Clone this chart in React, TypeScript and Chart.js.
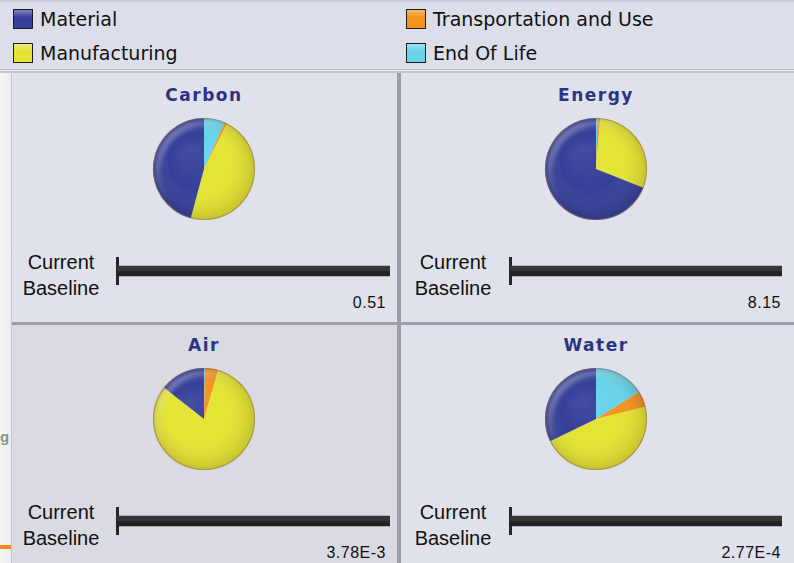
import React, { useEffect, useRef } from 'react';
import { Chart, registerables } from 'chart.js';

Chart.register(...registerables);

// ---------- data ----------
const seriesNames = ['Material', 'Manufacturing', 'Transportation and Use', 'End Of Life'];
const seriesColors = ['#36409a', '#e4e432', '#f5931f', '#68d3ea'];
const impactTitles = ['Carbon', 'Energy', 'Air', 'Water'];
const material = [45.8, 69.0, 14.4, 32.2];
const manufacturing = [46.7, 29.7, 81.1, 46.7];
const transportation = [0.8, 0.8, 4.2, 5.0];
const endOfLife = [6.7, 0.5, 0.3, 16.1];
const barLabels = ['Current', 'Baseline'];
const currentValues = [0.51, 8.15, 3.78e-3, 2.77e-4];
const baselineValues = [0.51, 8.15, 3.78e-3, 2.77e-4];

// ---------- layout ----------
const COLS = [
  { panelX: 12, panelW: 385, cx: 204, barX1: 117, barX2: 390, labelCx: 61, valueRight: 386 },
  { panelX: 401, panelW: 393, cx: 596, barX1: 510, barX2: 782, labelCx: 453, valueRight: 781 },
];
const ROWS = [
  { panelY: 73, panelH: 249, dy: 0 },
  { panelY: 325, panelH: 238, dy: 250 },
];
const Y = { title: 95, pie: 169, bar: 271, current: 262, baseline: 288, value: 303 };
const PIE_R = 51;

function fmt(v: number) {
  if (v >= 0.01) return v.toFixed(2);
  return v.toExponential(2).toUpperCase().replace('+', '');
}

const glossPlugin = {
  id: 'gloss',
  afterDatasetsDraw(chart: any) {
    const arc = chart.getDatasetMeta(0).data[0];
    if (!arc) return;
    const { x, y, outerRadius: r } = arc.getProps(['x', 'y', 'outerRadius'], true);
    const ctx = chart.ctx as CanvasRenderingContext2D;
    ctx.save();
    ctx.beginPath();
    ctx.arc(x, y, r, 0, Math.PI * 2);
    ctx.clip();
    const shade = ctx.createRadialGradient(x - r * 0.3, y - r * 0.35, 0, x, y, r);
    shade.addColorStop(0, 'rgba(255,255,255,0.07)');
    shade.addColorStop(0.55, 'rgba(255,255,255,0)');
    shade.addColorStop(1, 'rgba(0,0,0,0.15)');
    ctx.fillStyle = shade;
    ctx.fillRect(x - r, y - r, r * 2, r * 2);
    // soft highlight along the upper-left rim
    ctx.filter = 'blur(2px)';
    ctx.beginPath();
    ctx.arc(x, y, r - 2, 0, Math.PI * 2);
    ctx.arc(x + r * 0.04, y + r * 0.05, r * 0.9, 0, Math.PI * 2, true);
    const hl = ctx.createLinearGradient(x - r * 0.7, y - r * 0.7, x + r * 0.1, y + r * 0.1);
    hl.addColorStop(0, 'rgba(255,255,255,0.32)');
    hl.addColorStop(1, 'rgba(255,255,255,0)');
    ctx.fillStyle = hl;
    ctx.fill();
    ctx.filter = 'none';
    ctx.restore();
    ctx.beginPath();
    ctx.arc(x, y, r - 0.5, 0, Math.PI * 2);
    ctx.strokeStyle = 'rgba(155,110,95,0.55)';
    ctx.lineWidth = 1.2;
    ctx.stroke();
  },
};

function Pie({ idx, left, top }: { idx: number; left: number; top: number }) {
  const ref = useRef<HTMLCanvasElement>(null);
  useEffect(() => {
    // drawn clockwise from 12 o'clock: End Of Life, Transportation, Manufacturing, Material
    const values = [endOfLife[idx], transportation[idx], manufacturing[idx], material[idx]];
    const colors = [seriesColors[3], seriesColors[2], seriesColors[1], seriesColors[0]];
    const chart = new Chart(ref.current!, {
      type: 'pie',
      data: {
        labels: [seriesNames[3], seriesNames[2], seriesNames[1], seriesNames[0]],
        datasets: [{ data: values, backgroundColor: colors, borderWidth: 0 }],
      },
      options: {
        responsive: false,
        animation: false,
        events: [],
        layout: { padding: 4 },
        plugins: { legend: { display: false }, tooltip: { enabled: false } },
      },
      plugins: [glossPlugin],
    });
    return () => chart.destroy();
  }, [idx]);
  const size = (PIE_R + 4) * 2;
  return (
    <canvas
      ref={ref}
      width={size}
      height={size}
      style={{ position: 'absolute', left, top, width: size, height: size }}
    />
  );
}

function Bar({ idx, left, top, width }: { idx: number; left: number; top: number; width: number }) {
  const ref = useRef<HTMLCanvasElement>(null);
  useEffect(() => {
    const maxV = Math.max(currentValues[idx], baselineValues[idx]);
    const chart = new Chart(ref.current!, {
      type: 'bar',
      data: {
        labels: [barLabels.join(' / ')],
        datasets: [
          { label: barLabels[0], data: [currentValues[idx]], backgroundColor: '#353535', borderWidth: 0, barThickness: 5 },
          { label: barLabels[1], data: [baselineValues[idx]], backgroundColor: '#222222', borderWidth: 0, barThickness: 5 },
        ],
      },
      options: {
        indexAxis: 'y',
        responsive: false,
        animation: false,
        events: [],
        layout: { padding: { left: 3, right: 3, top: 1, bottom: 1 } },
        plugins: { legend: { display: false }, tooltip: { enabled: false } },
        scales: {
          x: { display: false, min: 0, max: maxV },
          y: {
            display: true,
            ticks: { display: false },
            grid: { display: false, drawTicks: false },
            border: { display: true, color: '#262626', width: 3 },
          },
        },
      },
    });
    return () => chart.destroy();
  }, [idx]);
  return (
    <canvas
      ref={ref}
      width={width}
      height={28}
      style={{ position: 'absolute', left, top, width, height: 28 }}
    />
  );
}

const legendPos = [
  { x: 13, y: 9 },
  { x: 13, y: 43 },
  { x: 406, y: 9 },
  { x: 406, y: 43 },
];

export default function App() {
  const panels: any[] = [];
  ROWS.forEach((row, ri) => {
    COLS.forEach((col, ci) => {
      const idx = ri * 2 + ci;
      const dy = row.dy;
      panels.push(
        <React.Fragment key={idx}>
          <div
            style={{
              position: 'absolute',
              left: col.panelX,
              top: row.panelY,
              width: col.panelW,
              height: row.panelH,
              background: idx === 2 ? '#d9dae2' : '#dfe1eb',
            }}
          />
          <div
            style={{
              position: 'absolute',
              left: col.cx - 100,
              width: 200,
              top: Y.title + dy - 11,
              height: 22,
              lineHeight: '22px',
              textAlign: 'center',
              fontFamily: '"DejaVu Sans", Verdana, sans-serif',
              fontWeight: 'bold',
              fontSize: 17,
              letterSpacing: '1.5px',
              color: '#2b3482',
            }}
          >
            {impactTitles[idx]}
          </div>
          <Pie idx={idx} left={col.cx - PIE_R - 4} top={Y.pie + dy - PIE_R - 4} />
          <div
            style={{
              position: 'absolute',
              left: col.labelCx - 55,
              width: 110,
              top: Y.current + dy - 13,
              lineHeight: '26px',
              textAlign: 'center',
              fontFamily: '"Liberation Sans", Arial, sans-serif',
              fontSize: 20,
              color: '#111',
            }}
          >
            <div>{barLabels[0]}</div>
            <div>{barLabels[1]}</div>
          </div>
          <Bar idx={idx} left={col.barX1 - 3} top={Y.bar + dy - 14} width={col.barX2 - col.barX1 + 6} />
          <div
            style={{
              position: 'absolute',
              left: col.valueRight - 150,
              width: 150,
              top: Y.value + dy - 10,
              lineHeight: '20px',
              textAlign: 'right',
              fontFamily: '"Liberation Sans", Arial, sans-serif',
              fontSize: 16,
              letterSpacing: '0.5px',
              color: '#111',
            }}
          >
            {fmt(currentValues[idx])}
          </div>
        </React.Fragment>
      );
    });
  });

  return (
    <div
      style={{
        position: 'fixed',
        left: 0,
        top: 0,
        width: 794,
        height: 563,
        overflow: 'hidden',
        background: '#dcdfea',
      }}
    >
      {/* legend header */}
      <div style={{ position: 'absolute', left: 0, top: 0, width: 794, height: 2, background: '#c9ccd8' }} />
      {seriesNames.map((name, i) => (
        <React.Fragment key={name}>
          <div
            style={{
              position: 'absolute',
              left: legendPos[i].x,
              top: legendPos[i].y,
              width: 18,
              height: 18,
              border: '1px solid #1c1c1c',
              background: `linear-gradient(180deg, rgba(255,255,255,0.35) 0%, rgba(255,255,255,0) 40%), ${seriesColors[i]}`,
            }}
          />
          <div
            style={{
              position: 'absolute',
              left: legendPos[i].x + 27,
              top: legendPos[i].y - 2,
              height: 24,
              lineHeight: '24px',
              fontFamily: '"DejaVu Sans", Tahoma, sans-serif',
              fontSize: 19,
              color: '#111',
              whiteSpace: 'nowrap',
            }}
          >
            {name}
          </div>
        </React.Fragment>
      ))}
      <div style={{ position: 'absolute', left: 0, top: 69, width: 794, height: 1, background: '#bdbcb4' }} />
      <div style={{ position: 'absolute', left: 0, top: 70, width: 794, height: 1, background: '#eeeeee' }} />
      <div style={{ position: 'absolute', left: 0, top: 71, width: 794, height: 2, background: '#c2c3cc' }} />

      {/* left strip from the underlying window */}
      <div
        style={{
          position: 'absolute',
          left: 0,
          top: 73,
          width: 12,
          height: 490,
          background: 'linear-gradient(90deg, #f7f7f7, #ececee)',
        }}
      />
      <div
        style={{
          position: 'absolute',
          left: 0,
          top: 428,
          lineHeight: '18px',
          fontFamily: '"Liberation Sans", Arial, sans-serif',
          fontSize: 15,
          fontWeight: 'bold',
          color: '#7f9a86',
        }}
      >
        g
      </div>
      <div style={{ position: 'absolute', left: 0, top: 545, width: 12, height: 4, background: '#f08a1c' }} />

      {panels}

      {/* dividers */}
      <div style={{ position: 'absolute', left: 397, top: 73, width: 4, height: 490, background: '#9d9dab' }} />
      <div style={{ position: 'absolute', left: 12, top: 322, width: 782, height: 3, background: '#9d9dab' }} />
      <div style={{ position: 'absolute', left: 11, top: 73, width: 1, height: 490, background: '#c4c5cf' }} />
    </div>
  );
}
